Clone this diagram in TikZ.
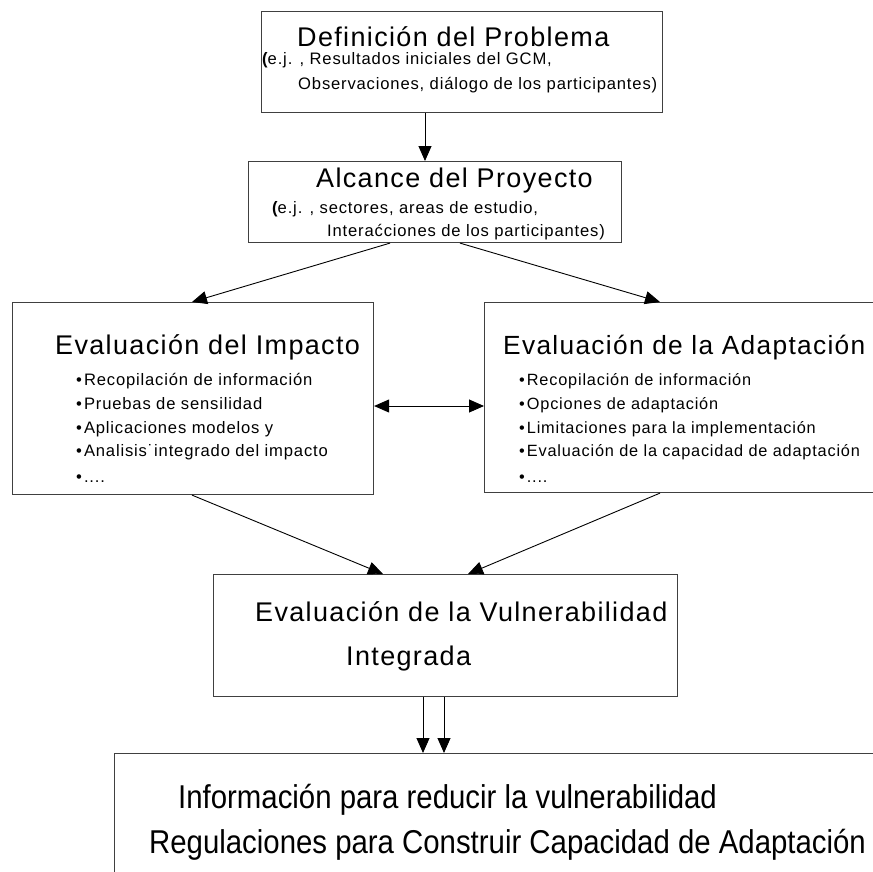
\documentclass[tikz,border=0pt]{standalone}
\usepackage{fontspec}
\setmainfont{Liberation Sans}[LetterSpace=5]
\newfontfamily\narrowfont{Liberation Sans}[FakeStretch=0.89]
\usetikzlibrary{arrows.meta,calc}

\begin{document}
\begin{tikzpicture}[x=1pt,y=-1pt,
  box/.style={draw=black!75, line width=1.1pt, rectangle, inner sep=0pt, anchor=north west},
  arr/.style={draw=black, line width=0.9pt, -{Triangle[length=15pt,width=13pt]}},
  dblarr/.style={draw=black, line width=0.9pt, {Triangle[length=15pt,width=13pt]}-{Triangle[length=15pt,width=13pt]}},
  txt/.style={anchor=base west, inner sep=0pt},
  head/.style={txt, font=\fontsize{27}{32}\selectfont},
  sub/.style={txt, font=\fontsize{16.6}{20}\selectfont},
  big/.style={txt, font=\narrowfont\fontsize{33}{40}\selectfont}]
\clip (0,0) rectangle (873,871);
\fill[white] (0,0) rectangle (873,871);

% boxes
\node[box, minimum width=401pt, minimum height=101pt] (def) at (261,11) {};
\node[box, minimum width=373pt, minimum height=81pt] (scope) at (248,161) {};
\node[box, minimum width=361pt, minimum height=192pt] (impact) at (12,302) {};
\node[box, minimum width=450pt, minimum height=190pt] (adapt) at (484,302) {};
\node[box, minimum width=464pt, minimum height=122pt] (vuln) at (213,574) {};
\node[box, minimum width=800pt, minimum height=200pt] (policy) at (114,753) {};

% texts: problem definition
\node[head] (defT) at (297,46) {Definición del Problema};
\node[sub] (defA) at (262,64) {{\bfseries(}e.j. , Resultados iniciales del GCM,};
\node[sub] (defB) at (298,89) {Observaciones, diálogo de los participantes)};

% texts: project scope
\node[head] (scopeT) at (316,187) {Alcance del Proyecto};
\node[sub] (scopeA) at (272,213) {{\bfseries(}e.j. , sectores, areas de estudio,};
\node[sub] (scopeB) at (327,236) {Interaćciones de los participantes)};

% texts: impact assessment
\node[head] (impT) at (55,354) {Evaluación del Impacto};
\node[sub] (imp1) at (76,385) {•\hspace{2pt}Recopilación de información};
\node[sub] (imp2) at (76,409) {•\hspace{2pt}Pruebas de sensilidad};
\node[sub] (imp3) at (76,433) {•\hspace{2pt}Aplicaciones modelos y};
\node[sub] (imp4) at (76,456) {•\hspace{2pt}Analisis˙integrado del impacto};
\node[sub] (imp5) at (76,482) {•\hspace{2pt}....};

% texts: adaptation assessment
\node[head, font=\fontsize{26.3}{32}\selectfont] (adaT) at (503,354) {Evaluación de la Adaptación};
\node[sub, font=\fontsize{16.3}{20}\selectfont] (ada1) at (519,385) {•\hspace{2pt}Recopilación de información};
\node[sub, font=\fontsize{16.3}{20}\selectfont] (ada2) at (519,409) {•\hspace{2pt}Opciones de adaptación};
\node[sub, font=\fontsize{16.3}{20}\selectfont] (ada3) at (519,433) {•\hspace{2pt}Limitaciones para la implementación};
\node[sub, font=\fontsize{16.3}{20}\selectfont] (ada4) at (519,456) {•\hspace{2pt}Evaluación de la capacidad de adaptación};
\node[sub, font=\fontsize{16.3}{20}\selectfont] (ada5) at (519,482) {•\hspace{2pt}....};

% texts: integrated vulnerability
\node[head] (vulT) at (255,621) {Evaluación de la Vulnerabilidad};
\node[head] (vulB) at (346,665) {Integrada};

% texts: policy
\node[big] (polA) at (178,808) {Información para reducir la vulnerabilidad};
\node[big] (polB) at (149,853) {Regulaciones para Construir Capacidad de Adaptación};

% connectors
\draw[arr] ([xshift=164pt]def.south west) -- ([xshift=177pt]scope.north west);
\draw[arr] ([xshift=142pt]scope.south west) -- ([xshift=180pt]impact.north west);
\draw[arr] ([xshift=212pt]scope.south west) -- ([xshift=176pt]adapt.north west);
\draw[dblarr] ([yshift=-104pt]impact.north east) -- ([yshift=-104pt]adapt.north west);
\draw[arr] ([xshift=180pt]impact.south west) -- ([xshift=170pt]vuln.north west);
\draw[arr] ([xshift=176pt]adapt.south west) -- ([xshift=255pt]vuln.north west);
\draw[arr] ([xshift=210pt]vuln.south west) -- ([xshift=309pt]policy.north west);
\draw[arr] ([xshift=231pt]vuln.south west) -- ([xshift=330pt]policy.north west);
\end{tikzpicture}
\end{document}
